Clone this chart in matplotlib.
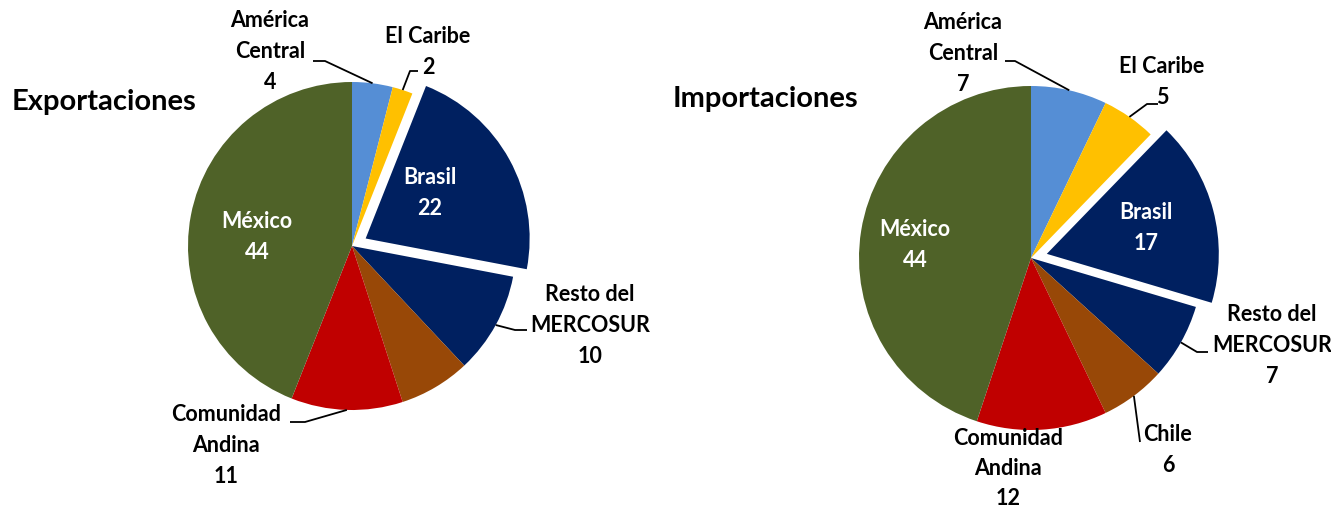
import numpy as np
import matplotlib
matplotlib.use("Agg")
import matplotlib.pyplot as plt

plt.rcParams['font.family'] = ['Lato', 'DejaVu Sans']
plt.rcParams['font.weight'] = 'bold'

# ---- data ----
categories = ["América Central", "El Caribe", "Brasil", "Resto del MERCOSUR",
              "Chile", "Comunidad Andina", "México"]
export_values = [4, 2, 22, 10, 7, 11, 44]
import_values = [7, 5, 17, 7, 6, 12, 44]
colors = ["#558ED5", "#FFC000", "#002060", "#002060", "#984807", "#C00000", "#4F6228"]

W, H = 1331, 508
fig = plt.figure(figsize=(W / 100, H / 100), dpi=100)
ax = fig.add_axes([0, 0, 1, 1])
ax.set_xlim(0, W)
ax.set_ylim(0, H)
ax.set_aspect('equal')
ax.axis('off')


def Y(y):
    return H - y


FS = 15.5


def draw_pie(values, cx, cy, r, labels):
    explode = [0.095 * r if c == "Brasil" else 0 for c in categories]
    wedges, _ = ax.pie(values, colors=colors, startangle=90, counterclock=False,
                       center=(cx, Y(cy)), radius=r, explode=explode, frame=True,
                       wedgeprops=dict(linewidth=0))
    for w, cat, v in zip(wedges, categories, values):
        if cat not in labels:
            continue
        spec = labels[cat]
        name = spec.get("name", cat)
        txt = f"{name}\n{v}" if name else f"{v}"
        col = spec.get("color", "black")
        tx, ty = spec["pos"]
        ax.text(tx, Y(ty), txt, ha='center', va='top', fontsize=FS,
                fontweight='bold', color=col, linespacing=spec.get("ls", 1.58))
        if "line" in spec:
            mid = np.deg2rad((w.theta1 + w.theta2) / 2)
            wc = w.center
            ex = wc[0] + w.r * np.cos(mid)
            ey = wc[1] + w.r * np.sin(mid)
            (bx, by), (hx, hy) = spec["line"]
            ax.plot([ex, bx, hx], [ey, Y(by), Y(hy)], color='black', lw=1.3,
                    solid_capstyle='butt', zorder=5)


left_labels = {
    "América Central": dict(name="América\nCentral", pos=(270, 10),
                            line=((325, 61), (313, 61))),
    "El Caribe": dict(name="El Caribe", pos=(428, 26), line=((410, 71), (418, 71))),
    "Brasil": dict(name="Brasil", pos=(430, 167), color="white"),
    "Resto del MERCOSUR": dict(name="Resto del\nMERCOSUR", pos=(590, 284),
                               line=((515, 330), (527, 330))),
    "Comunidad Andina": dict(name="Comunidad\nAndina", pos=(226, 404),
                             line=((305, 422), (290, 422))),
    "México": dict(name="México", pos=(257, 211), color="white"),
}

right_labels = {
    "América Central": dict(name="América\nCentral", pos=(963, 12),
                            line=((1015, 61), (1005, 61))),
    "El Caribe": dict(name="El Caribe", pos=(1162, 56), line=((1147, 104), (1158, 104))),
    "Brasil": dict(name="Brasil", pos=(1146, 202), color="white"),
    "Resto del MERCOSUR": dict(name="Resto del\nMERCOSUR", pos=(1272, 304),
                               line=((1197, 352), (1208, 352))),
    "Chile": dict(name="Chile", pos=(1168, 424), line=((1140, 442), (1140, 442))),
    "Comunidad Andina": dict(name="Comunidad\nAndina", pos=(1008, 428), ls=1.52),
    "México": dict(name="México", pos=(915, 219), color="white"),
}

draw_pie(export_values, 352, 246, 164, left_labels)
draw_pie(import_values, 1031, 258, 172, right_labels)

ax.text(12, Y(102), "Exportaciones", ha='left', va='center', fontsize=21, fontweight='bold')
ax.text(673, Y(99), "Importaciones", ha='left', va='center', fontsize=21, fontweight='bold')

ax.set_xlim(0, W)
ax.set_ylim(0, H)
fig.savefig("out.png", dpi=100)
